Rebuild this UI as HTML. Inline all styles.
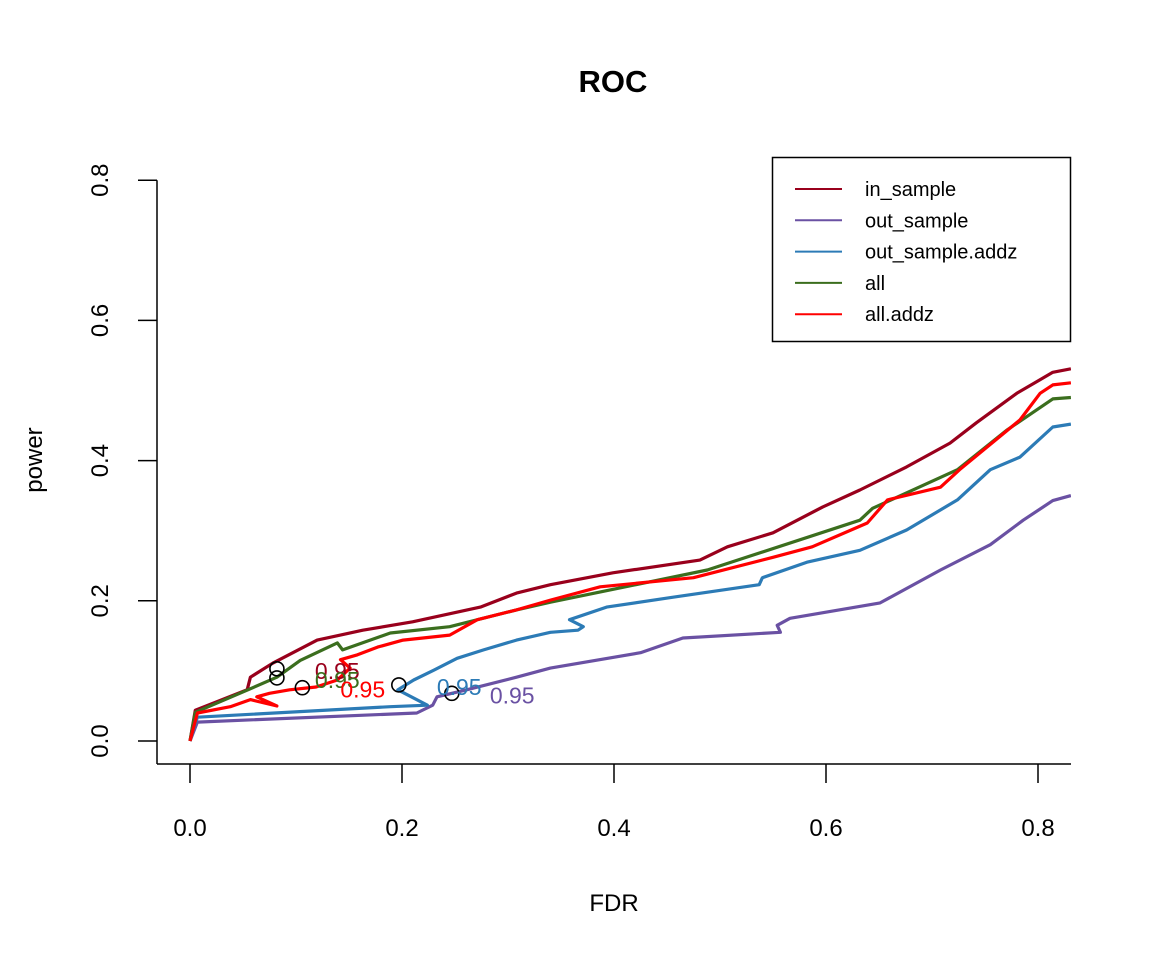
<!DOCTYPE html>
<html><head><meta charset="utf-8"><title>ROC</title>
<style>
html,body{margin:0;padding:0;background:#fff;}
svg{display:block;font-family:"Liberation Sans",Arial,sans-serif;}
</style></head>
<body>
<svg id="chart" width="1152" height="960" viewBox="0 0 1152 960" xmlns="http://www.w3.org/2000/svg">
<defs><clipPath id="plotclip"><rect x="157" y="150" width="914" height="614"/></clipPath></defs>
<text x="613" y="92" text-anchor="middle" font-size="31" font-weight="bold">ROC</text>
<text x="614" y="911" text-anchor="middle" font-size="24">FDR</text>
<text transform="translate(42,460) rotate(-90)" text-anchor="middle" font-size="24">power</text>
<g id="axes"></g>
<g id="series" clip-path="url(#plotclip)"></g>
<g id="marks"></g>
<g>
<rect x="772.5" y="157.5" width="298" height="184" fill="#fff" stroke="#000" stroke-width="1.5"/>
<g id="legend"></g>
</g>
</svg>
<script>
const xTicks = [0.0, 0.2, 0.4, 0.6, 0.8];
const yTicks = [0.0, 0.2, 0.4, 0.6, 0.8];
const seriesNames = ["in_sample","out_sample","out_sample.addz","all","all.addz"];
const seriesColors = ["#99001C","#6A51A3","#2C7BB6","#3B6E1E","#FF0000"];

const inSampleFdr = [0,.005,.054,.057,.078,.120,.163,.210,.274,.308,.340,.399,.481,.507,.550,.597,.632,.676,.717,.742,.780,.814,.831];
const inSamplePower = [0,.044,.073,.091,.111,.144,.158,.170,.191,.211,.223,.240,.258,.277,.297,.334,.358,.391,.425,.454,.496,.526,.531];

const outSampleFdr = [0,.007,.214,.229,.233,.261,.308,.340,.425,.465,.557,.554,.566,.651,.708,.755,.786,.814,.831];
const outSamplePower = [0,.027,.040,.051,.063,.073,.091,.104,.126,.147,.155,.165,.175,.197,.244,.280,.315,.343,.350];

const outAddzFdr = [0,.007,.189,.224,.196,.211,.230,.252,.277,.308,.340,.366,.371,.358,.393,.455,.537,.540,.582,.632,.676,.724,.755,.783,.814,.831];
const outAddzPower = [0,.034,.049,.051,.073,.087,.101,.118,.130,.144,.155,.158,.163,.173,.191,.205,.223,.233,.255,.272,.301,.344,.387,.405,.448,.452];

const allFdr = [0,.005,.047,.082,.104,.139,.144,.189,.245,.308,.340,.488,.632,.644,.724,.771,.814,.831];
const allPower = [0,.041,.068,.091,.115,.140,.130,.154,.163,.187,.198,.244,.315,.332,.387,.444,.488,.490];

const allAddzFdr = [0,.007,.038,.057,.082,.063,.075,.094,.119,.139,.151,.142,.158,.177,.201,.245,.271,.308,.340,.387,.475,.550,.587,.639,.658,.708,.726,.783,.802,.814,.831];
const allAddzPower = [0,.040,.049,.059,.050,.063,.068,.073,.077,.087,.104,.116,.123,.134,.144,.151,.173,.187,.201,.220,.233,.262,.277,.311,.344,.362,.387,.458,.496,.508,.511];

// threshold-0.95 points (order: in_sample, out_sample, out_sample.addz, all, all.addz)
const cutFdr = [0.082, 0.247, 0.197, 0.082, 0.106];
const cutPower = [0.103, 0.068, 0.080, 0.090, 0.076];
const cutLabel = ["0.95","0.95","0.95","0.95","0.95"];

const NS = "http://www.w3.org/2000/svg";
function sx(v){ return 190 + v*1060; }
function sy(v){ return 741 - v*701; }
function mk(tag, attrs, parent){
  const e = document.createElementNS(NS, tag);
  for (const k in attrs) e.setAttribute(k, attrs[k]);
  parent.appendChild(e);
  return e;
}
const axes = document.getElementById("axes");
let l = mk("line",{x1:157,y1:sy(0.8),x2:157,y2:764,stroke:"#000","stroke-width":1.5},axes);


l = mk("line",{x1:157,y1:764,x2:1071,y2:764,stroke:"#000","stroke-width":1.5},axes);


xTicks.forEach(t=>{
  const tk = mk("line",{x1:sx(t),y1:764,x2:sx(t),y2:783,stroke:"#000","stroke-width":1.5},axes);
  
  
  const tx = mk("text",{x:sx(t),y:836,"text-anchor":"middle","font-size":24},axes);
  
  
  tx.textContent = t.toFixed(1);
});
yTicks.forEach(t=>{
  const tk = mk("line",{x1:138,y1:sy(t),x2:157,y2:sy(t),stroke:"#000","stroke-width":1.5},axes);
  
  
  const tx = mk("text",{transform:`translate(108,${sy(t)}) rotate(-90)`,"text-anchor":"middle","font-size":24},axes);
  
  
  tx.textContent = t.toFixed(1);
});
const fdrs = [inSampleFdr,outSampleFdr,outAddzFdr,allFdr,allAddzFdr];
const pows = [inSamplePower,outSamplePower,outAddzPower,allPower,allAddzPower];
const drawOrder = [0,1,2,3,4];
const sg = document.getElementById("series");
drawOrder.forEach(i=>{
  const pts = fdrs[i].map((f,j)=>sx(f).toFixed(1)+","+sy(pows[i][j]).toFixed(1)).join(" ");
  const p = mk("polyline",{points:pts,fill:"none",stroke:seriesColors[i],"stroke-width":3.2,"stroke-linejoin":"round"},sg);
  
  
});
const mg = document.getElementById("marks");
cutFdr.forEach((f,i)=>{
  const c = mk("circle",{cx:sx(f),cy:sy(cutPower[i]),r:7,fill:"none",stroke:"#000","stroke-width":1.6},mg);
  
  
  const t = mk("text",{x:sx(f)+38,y:sy(cutPower[i])+10,"font-size":23,fill:seriesColors[i]},mg);
  
  
  t.textContent = cutLabel[i];
});
const lg = document.getElementById("legend");
seriesNames.forEach((n,i)=>{
  const y = 189 + i*31.3;
  const ln = mk("line",{x1:795,y1:y,x2:842,y2:y,stroke:seriesColors[i],"stroke-width":2},lg);
  
  
  const t = mk("text",{x:865,y:y+7,"font-size":20},lg);
  
  
  t.textContent = n;
});
</script>
</body></html>
